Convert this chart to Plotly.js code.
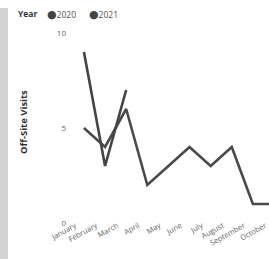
<!DOCTYPE html>
<html>
<head>
<meta charset="utf-8">
<script src="https://cdn.plot.ly/plotly-3.0.1.min.js"></script>
<style>
html,body{margin:0;padding:0;background:#fff;}
#wrap{position:relative;width:269px;height:259px;overflow:hidden;}
#stripe{position:absolute;left:0;top:8px;width:8px;height:251px;background:#d2d2d2;z-index:5;}
#chart{position:absolute;left:0;top:0;width:276px;height:259px;}
</style>
</head>
<body>
<div id="wrap"><div id="chart"></div><div id="stripe"></div></div>
<script>
const months = ["January","February","March","April","May","June","July","August","September","October"];
const months2021 = ["January","February","March"];
const visits2020 = [5,4,6,2,3,4,3,4,1,1];
const visits2021 = [9,3,7];
const yTicks = [0,5,10];
const legendTitle = "Year";
const seriesNames = ["2020","2021"];

const font = "Open Sans, DejaVu Sans, sans-serif";
const traces = [
  {x: months, y: visits2020, type: "scatter", mode: "lines", name: seriesNames[0],
   line: {color: "#4a4a4a", width: 2.6}, showlegend: false},
  {x: months2021, y: visits2021, type: "scatter", mode: "lines", name: seriesNames[1],
   line: {color: "#444444", width: 2.6}, showlegend: false}
];

const W = 276, L = 70, R = 2, T = 33, B = 36;
const pw = W - L - R, ph = 259 - T - B;
function px(x){ return (x - L) / pw; }
function py(y){ return (259 - B - y) / ph; }

const layout = {
  width: W, height: 259,
  margin: {l: L, r: R, t: T, b: B, pad: 0},
  paper_bgcolor: "#ffffff", plot_bgcolor: "#ffffff",
  showlegend: false,
  font: {family: font, size: 8, color: "#666"},
  xaxis: {type: "category", categoryorder: "array", categoryarray: months,
    range: [-0.66, 9], tickangle: -29, showgrid: false, zeroline: false, showline: false,
    ticks: "", automargin: false, ticklabelshift: -9, ticklabelstandoff: -4,
    tickfont: {family: font, size: 7.5, color: "#666"}},
  yaxis: {range: [0, 10], tickvals: yTicks, ticktext: yTicks.map(String), showgrid: false,
    zeroline: false, showline: false, ticks: "", automargin: false, ticklabelstandoff: 3,
    tickfont: {family: font, size: 8, color: "#666"}},
  annotations: [
    {text: "<b>Off-Site Visits</b>", textangle: -90, xref: "paper", yref: "paper",
     x: px(23), y: py(122), xanchor: "center", yanchor: "middle", showarrow: false,
     font: {family: font, size: 9.5, color: "#333"}},
    {text: "<b>" + legendTitle + "</b>", xref: "paper", yref: "paper",
     x: px(16), y: py(14), xanchor: "left", yanchor: "middle", showarrow: false,
     font: {family: font, size: 8.5, color: "#333"}},
    {text: "<span style='color:#444;font-size:11px'>●</span>" + seriesNames[0], xref: "paper", yref: "paper",
     x: px(45), y: py(14), xanchor: "left", yanchor: "middle", showarrow: false,
     font: {family: font, size: 8.5, color: "#555"}},
    {text: "<span style='color:#444;font-size:11px'>●</span>" + seriesNames[1], xref: "paper", yref: "paper",
     x: px(87), y: py(14), xanchor: "left", yanchor: "middle", showarrow: false,
     font: {family: font, size: 8.5, color: "#555"}}
  ]
};
Plotly.newPlot("chart", traces, layout, {staticPlot: true, displayModeBar: false});
</script>
</body>
</html>
